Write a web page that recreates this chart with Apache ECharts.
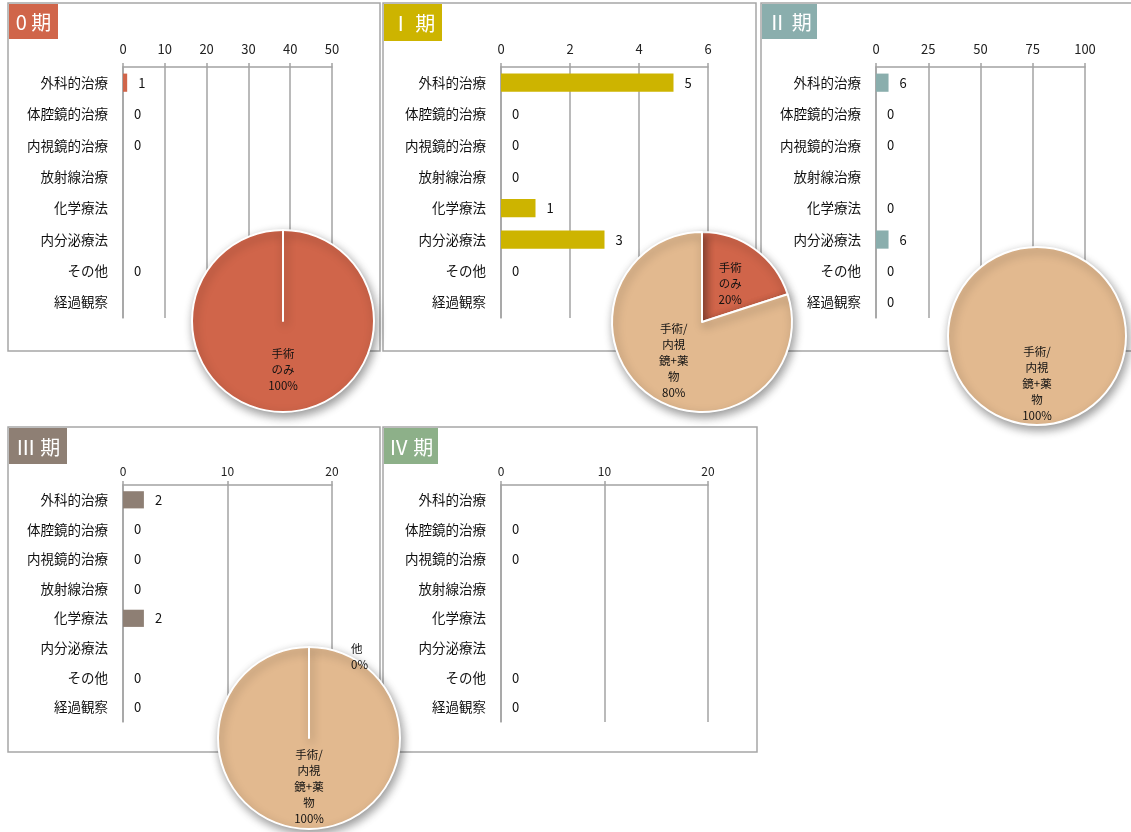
<!DOCTYPE html>
<html>
<head>
<meta charset="utf-8">
<script src="https://cdn.jsdelivr.net/npm/echarts@6/dist/echarts.min.js"></script>
<style>
  html, body { margin: 0; padding: 0; background: #ffffff; }
  #main { width: 1131px; height: 832px; }
</style>
</head>
<body>
<div id="main"></div>
<script>
// categories shared by every stage
var categories = ['外科的治療', '体腔鏡的治療', '内視鏡的治療', '放射線治療', '化学療法', '内分泌療法', 'その他', '経過観察']
var stageNames = ['0 期', 'Ⅰ 期', 'Ⅱ 期', 'Ⅲ 期', 'Ⅳ 期']

// bar values per stage (null = no label in the original)
var stage0 = [1, 0, 0, null, null, null, 0, null]
var stage1 = [5, 0, 0, 0, 1, 3, 0, null]
var stage2 = [6, 0, 0, null, 0, 6, 0, 0]
var stage3 = [2, 0, 0, 0, 2, null, 0, 0]
var stage4 = [null, 0, 0, null, null, null, 0, 0]

// value axis ticks per stage
var axisMax = [50, 6, 100, 20, 20]
var axisStep = [10, 2, 25, 10, 10]

// pie slices (percent), null = not in that pie
var pieNames = ['手術のみ', '手術/内視鏡+薬物', '他']
var pieLabels = ['手術\nのみ', '手術/\n内視\n鏡+薬\n物', '他']
var pie0 = [100, 0, null]
var pie1 = [20, 80, null]
var pie2 = [0, 100, null]
var pie3 = [0, 100, 0]

var FONT = '"Noto Sans CJK JP", "Noto Sans", sans-serif'
var stageColors = ['#d0654a', '#cdb400', '#8aaead', '#8e7f74', '#8db089']
var pieColors = ['#d0654a', '#e2b98f', '#a9a9a9']
var lineColor = '#a3a3a3'

var stages = [stage0, stage1, stage2, stage3, stage4]
var pies = [pie0, pie1, pie2, pie3]

// layout of each panel
var boxes = [
  {x: 8, y: 3, w: 372, h: 348, tagW: 49, tagH: 35},
  {x: 383, y: 3, w: 373, h: 348, tagW: 58, tagH: 37},
  {x: 761, y: 3, w: 380, h: 348, tagW: 55, tagH: 35},
  {x: 8, y: 427, w: 372, h: 325, tagW: 58, tagH: 36},
  {x: 383, y: 427, w: 374, h: 325, tagW: 54, tagH: 36}
]
var grids = [
  {left: 123, top: 67, width: 209, height: 251},
  {left: 501, top: 67, width: 207, height: 251},
  {left: 876, top: 67, width: 209, height: 251},
  {left: 123, top: 485, width: 209, height: 237},
  {left: 501, top: 485, width: 207, height: 237}
]
var pieCenters = [[283, 321], [702, 322], [1037, 336], [309, 738]]
var pieRadius = [91, 90, 89, 91]

var graphic = []
boxes.forEach(function (b, i) {
  graphic.push({
    type: 'rect', z: -10,
    shape: {x: b.x, y: b.y, width: b.w, height: b.h},
    style: {fill: '#ffffff', stroke: '#a6a6a6', lineWidth: 1.5}
  })
  graphic.push({
    type: 'rect', z: -9,
    shape: {x: b.x + 1, y: b.y + 1, width: b.tagW, height: b.tagH},
    style: {fill: stageColors[i]}
  })
  graphic.push({
    type: 'text', z: -8,
    x: b.x + 1 + b.tagW / 2, y: b.y + 2 + b.tagH / 2,
    style: {text: stageNames[i], fill: '#ffffff', font: '20px ' + FONT, align: 'center', verticalAlign: 'middle'}
  })
})

var xAxis = []
var yAxis = []
var series = []
stages.forEach(function (vals, i) {
  var bottomRow = i >= 3
  xAxis.push({
    gridIndex: i,
    type: 'value',
    position: 'top',
    min: 0,
    max: axisMax[i],
    interval: axisStep[i],
    axisLine: {show: true, lineStyle: {color: lineColor, width: 1.5}},
    axisTick: {show: true, length: 4, lineStyle: {color: lineColor, width: 1.5}},
    splitLine: {show: true, lineStyle: {color: lineColor, width: 1.5}},
    axisLabel: {color: '#222', fontFamily: FONT, fontSize: bottomRow ? 12 : 13, margin: bottomRow ? 8 : 11}
  })
  yAxis.push({
    gridIndex: i,
    type: 'category',
    inverse: true,
    data: categories,
    axisLine: {show: true, lineStyle: {color: lineColor, width: 1.5}},
    axisTick: {show: false},
    axisLabel: {color: '#111', fontFamily: FONT, fontSize: 13.5, margin: 15}
  })
  series.push({
    type: 'bar',
    xAxisIndex: i,
    yAxisIndex: i,
    data: vals,
    barWidth: '58%',
    itemStyle: {color: stageColors[i]},
    label: {show: true, position: 'right', distance: 11, color: '#111', fontFamily: FONT, fontSize: 13}
  })
})

pies.forEach(function (vals, i) {
  var data = []
  vals.forEach(function (v, k) {
    if (v === null) return
    var item = {name: pieNames[k], value: v, itemStyle: {color: pieColors[k]}}
    if (v === 0) {
      // zero slices keep their edge line; only 他 keeps its label
      item.label = pieNames[k] === '他' ? {show: true, position: 'outside'} : {show: false}
      item.labelLine = {show: false}
    }
    data.push(item)
  })
  series.push({
    type: 'pie',
    z: 5,
    center: pieCenters[i],
    radius: pieRadius[i],
    startAngle: 90,
    clockwise: true,
    animation: false,
    data: data,
    itemStyle: {
      borderColor: '#ffffff', borderWidth: 2,
      shadowBlur: 10, shadowColor: 'rgba(0,0,0,0.4)', shadowOffsetX: 2, shadowOffsetY: 4
    },
    label: {
      show: true,
      position: 'inside',
      color: '#111',
      fontFamily: FONT,
      fontSize: 11.5,
      lineHeight: 16,
      formatter: function (p) {
        return pieLabels[pieNames.indexOf(p.name)] + '\n' + p.percent + '%'
      }
    },
    labelLine: {show: false},
    labelLayout: function (p) {
      // nudge the outside 他 label next to the rim
      var d = data[p.dataIndex]
      return d && d.name === '他' ? {dx: 7, dy: 25} : {}
    }
  })
})

var myChart = echarts.init(document.getElementById('main'))
myChart.setOption({
  animation: false,
  backgroundColor: '#ffffff',
  textStyle: {fontFamily: FONT},
  graphic: graphic,
  grid: grids,
  xAxis: xAxis,
  yAxis: yAxis,
  series: series
})
</script>
</body>
</html>
